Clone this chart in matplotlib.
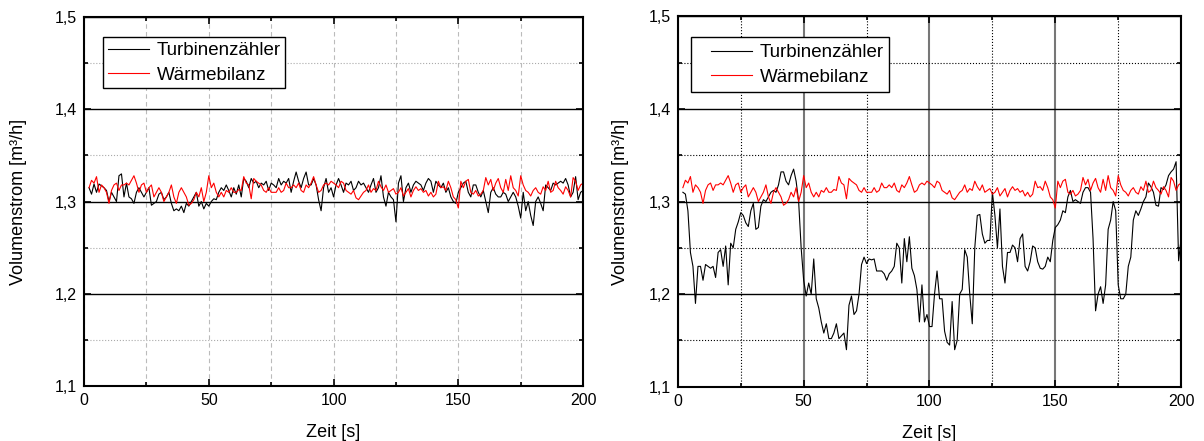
import numpy as np
import matplotlib.pyplot as plt
from matplotlib.patches import Rectangle
from matplotlib.ticker import MultipleLocator, FuncFormatter

plt.rcParams['font.family'] = ['Liberation Sans', 'DejaVu Sans']

# Zeit in Sekunden (2 ... 200)
zeit = list(range(2, 201))

# Turbinenzaehler, linkes Diagramm
turbine_links = [
    1.315, 1.308, 1.319, 1.310, 1.319, 1.317, 1.315, 1.312, 1.300, 1.310,
    1.305, 1.300, 1.328, 1.330, 1.305, 1.320, 1.305, 1.303, 1.298, 1.310,
    1.315, 1.310, 1.305, 1.310, 1.315, 1.296, 1.298, 1.300, 1.308, 1.310,
    1.302, 1.305, 1.310, 1.298, 1.290, 1.292, 1.290, 1.295, 1.288, 1.298,
    1.295, 1.300, 1.305, 1.310, 1.295, 1.300, 1.292, 1.298, 1.295, 1.300,
    1.303, 1.302, 1.310, 1.315, 1.312, 1.318, 1.312, 1.305, 1.315, 1.308,
    1.318, 1.305, 1.325, 1.322, 1.315, 1.325, 1.320, 1.322, 1.315, 1.320,
    1.318, 1.322, 1.312, 1.320, 1.318, 1.315, 1.325, 1.318, 1.322, 1.320,
    1.325, 1.310, 1.322, 1.332, 1.322, 1.315, 1.325, 1.332, 1.318, 1.318,
    1.325, 1.318, 1.302, 1.290, 1.315, 1.325, 1.310, 1.315, 1.305,
    1.318, 1.325, 1.318, 1.310, 1.320, 1.318, 1.322, 1.312, 1.315, 1.322,
    1.318, 1.320, 1.315, 1.310, 1.318, 1.325, 1.310, 1.315, 1.328, 1.305,
    1.295, 1.310, 1.305, 1.302, 1.278, 1.320, 1.328, 1.300, 1.315, 1.320,
    1.310, 1.318, 1.322, 1.320, 1.318, 1.312, 1.320, 1.325, 1.322, 1.310,
    1.322, 1.318, 1.315, 1.320, 1.310, 1.315, 1.305, 1.300, 1.298, 1.310,
    1.315, 1.320, 1.322, 1.310, 1.305, 1.318, 1.318, 1.310, 1.305, 1.312,
    1.300, 1.288, 1.310, 1.315, 1.308, 1.305, 1.305, 1.310, 1.308, 1.300,
    1.305, 1.310, 1.305, 1.295, 1.282, 1.310, 1.290, 1.300, 1.285, 1.274,
    1.300, 1.305, 1.298, 1.290, 1.318, 1.315, 1.312, 1.320, 1.318, 1.320,
    1.322, 1.320, 1.325, 1.318, 1.305, 1.310, 1.327, 1.302, 1.310, 1.312,
]

# Turbinenzaehler, rechtes Diagramm
turbine_rechts = [
    1.310, 1.308, 1.290, 1.245, 1.230, 1.190, 1.230, 1.230, 1.215, 1.232,
    1.230, 1.228, 1.230, 1.218, 1.245, 1.248, 1.230, 1.252, 1.210, 1.255,
    1.250, 1.270, 1.278, 1.288, 1.285, 1.277, 1.273, 1.290, 1.298, 1.270,
    1.272, 1.295, 1.302, 1.300, 1.305, 1.310, 1.312, 1.310, 1.318, 1.332,
    1.332, 1.322, 1.318, 1.328, 1.335, 1.322, 1.300, 1.250, 1.215, 1.198,
    1.212, 1.200, 1.238, 1.195, 1.185, 1.170, 1.158, 1.168, 1.152, 1.152,
    1.158, 1.168, 1.152, 1.155, 1.158, 1.140, 1.188, 1.198, 1.178, 1.182,
    1.200, 1.232, 1.240, 1.233, 1.238, 1.237, 1.238, 1.225, 1.225, 1.225,
    1.222, 1.215, 1.222, 1.225, 1.230, 1.255, 1.250, 1.212, 1.260, 1.235,
    1.262, 1.228, 1.220, 1.205, 1.170, 1.210, 1.170, 1.178, 1.165, 1.165,
    1.200, 1.225, 1.195, 1.195, 1.160, 1.148, 1.145, 1.192, 1.140, 1.150,
    1.200, 1.205, 1.248, 1.240, 1.200, 1.168, 1.250, 1.285, 1.286, 1.265,
    1.255, 1.258, 1.258, 1.310, 1.285, 1.250, 1.292, 1.230, 1.212, 1.245,
    1.245, 1.253, 1.250, 1.235, 1.260, 1.265, 1.230, 1.225, 1.235, 1.252,
    1.250, 1.235, 1.228, 1.227, 1.230, 1.240, 1.235, 1.258, 1.272, 1.275,
    1.280, 1.290, 1.288, 1.305, 1.312, 1.300, 1.302, 1.300, 1.298, 1.310,
    1.315, 1.315, 1.310, 1.260, 1.182, 1.200, 1.208, 1.190, 1.210, 1.270,
    1.280, 1.300, 1.290, 1.210, 1.195, 1.195, 1.200, 1.230, 1.240, 1.280,
    1.290, 1.285, 1.292, 1.300, 1.305, 1.320, 1.316, 1.310, 1.296, 1.295,
    1.315, 1.313, 1.318, 1.328, 1.332, 1.335, 1.343, 1.236, 1.260,
]

# Waermebilanz (in beiden Diagrammen gleich)
waermebilanz = [
    1.315, 1.323, 1.320, 1.327, 1.310, 1.318, 1.315, 1.310, 1.298, 1.312,
    1.318, 1.320, 1.312, 1.318, 1.318, 1.320, 1.318, 1.323, 1.328, 1.320,
    1.310, 1.318, 1.320, 1.310, 1.315, 1.318, 1.305, 1.310, 1.315, 1.310,
    1.300, 1.305, 1.310, 1.318, 1.305, 1.298, 1.310, 1.315, 1.310, 1.305,
    1.296, 1.298, 1.302, 1.310, 1.305, 1.315, 1.300, 1.310, 1.328, 1.315,
    1.320, 1.310, 1.305, 1.310, 1.305, 1.312, 1.310, 1.315, 1.310, 1.310,
    1.313, 1.312, 1.327, 1.320, 1.318, 1.303, 1.325, 1.322, 1.320, 1.318,
    1.312, 1.310, 1.315, 1.310, 1.310, 1.310, 1.315, 1.310, 1.312, 1.320,
    1.315, 1.315, 1.318, 1.315, 1.320, 1.312, 1.310, 1.318, 1.315, 1.320,
    1.327, 1.318, 1.310, 1.312, 1.318, 1.320, 1.318, 1.322, 1.320,
    1.318, 1.315, 1.322, 1.320, 1.312, 1.310, 1.308, 1.312, 1.304, 1.302,
    1.306, 1.310, 1.312, 1.318, 1.310, 1.314, 1.312, 1.322, 1.316, 1.312,
    1.318, 1.310, 1.312, 1.314, 1.308, 1.310, 1.315, 1.306, 1.310, 1.314,
    1.305, 1.312, 1.316, 1.312, 1.314, 1.310, 1.312, 1.306, 1.310, 1.305,
    1.308, 1.322, 1.315, 1.316, 1.312, 1.322, 1.315, 1.305, 1.302, 1.293,
    1.322, 1.315, 1.322, 1.324, 1.310, 1.308, 1.312, 1.306, 1.308, 1.312,
    1.326, 1.318, 1.324, 1.312, 1.320, 1.325, 1.315, 1.310, 1.324, 1.312,
    1.328, 1.315, 1.312, 1.306, 1.328, 1.318, 1.312, 1.310, 1.306, 1.312,
    1.315, 1.310, 1.308, 1.316, 1.312, 1.322, 1.310, 1.312, 1.322, 1.315,
    1.312, 1.308, 1.316, 1.312, 1.305, 1.326, 1.322, 1.312, 1.318, 1.320,
]

komma = FuncFormatter(lambda v, pos: ('%g' % round(v, 2)).replace('.', ','))

fig = plt.figure(figsize=(12.04, 4.41), dpi=100)
ax1 = fig.add_axes([0.0698, 0.125, 0.4145, 0.836])
ax2 = fig.add_axes([0.563, 0.123, 0.418, 0.840])


def grundgeruest(ax, ypad):
    ax.set_xlim(0, 200)
    ax.set_ylim(1.1, 1.5)
    ax.xaxis.set_major_locator(MultipleLocator(50))
    ax.xaxis.set_minor_locator(MultipleLocator(25))
    ax.yaxis.set_major_locator(MultipleLocator(0.1))
    ax.yaxis.set_minor_locator(MultipleLocator(0.05))
    ax.yaxis.set_major_formatter(komma)
    ax.tick_params(which='both', direction='in', top=True, right=True,
                   labelsize=11.5, width=1.2)
    ax.tick_params(which='major', length=5, pad=5)
    ax.tick_params(which='minor', length=3)
    for s in ax.spines.values():
        s.set_linewidth(1.5)
    ax.set_xlabel('Zeit [s]', fontsize=13, labelpad=12)
    ax.set_ylabel('Volumenstrom [m³/h]', fontsize=13, labelpad=ypad)
    ax.set_axisbelow(True)


leg_opts = dict(loc='upper left', borderaxespad=0, fancybox=False,
                edgecolor='black', fontsize=13.5, handlelength=2.2,
                labelspacing=0.38, handletextpad=0.4)

# linkes Diagramm
grundgeruest(ax1, 20)
ax1.grid(which='major', axis='y', color='black', lw=1.0, ls='-')
ax1.grid(which='minor', axis='y', color='#aaaaaa', lw=0.8, ls=':')
ax1.grid(which='both', axis='x', color='#bbbbbb', lw=0.8, ls=(0, (4, 3)))
ax1.plot(zeit, turbine_links, color='black', lw=0.8, label='Turbinenzähler')
ax1.plot(zeit, waermebilanz, color='red', lw=0.8, label='Wärmebilanz')
leg1 = ax1.legend(bbox_to_anchor=(0.038, 0.945), borderpad=0.25, **leg_opts)
leg1.get_frame().set_linewidth(1.0)
leg1.get_frame().set_alpha(1)

# rechtes Diagramm
grundgeruest(ax2, 14)
ax2.grid(which='major', axis='y', color='black', lw=1.0, ls='-')
ax2.grid(which='minor', axis='y', color='black', lw=0.8, ls=':')
ax2.grid(which='major', axis='x', color='#777777', lw=1.5, ls='-')
ax2.grid(which='minor', axis='x', color='black', lw=0.8, ls=':')
ax2.plot(zeit, turbine_rechts, color='black', lw=0.8, label='Turbinenzähler')
ax2.plot(zeit, waermebilanz, color='red', lw=0.8, label='Wärmebilanz')
leg2 = ax2.legend(bbox_to_anchor=(0.057, 0.937), borderpad=0.25,
                  frameon=False, **leg_opts)
# Rahmen der Legende etwas breiter als der Inhalt
ax2.add_patch(Rectangle((0.026, 0.796), 0.394, 0.149, transform=ax2.transAxes,
                        facecolor='white', edgecolor='black', lw=1.0,
                        zorder=4.5))

fig.savefig('out.png', dpi=100)
